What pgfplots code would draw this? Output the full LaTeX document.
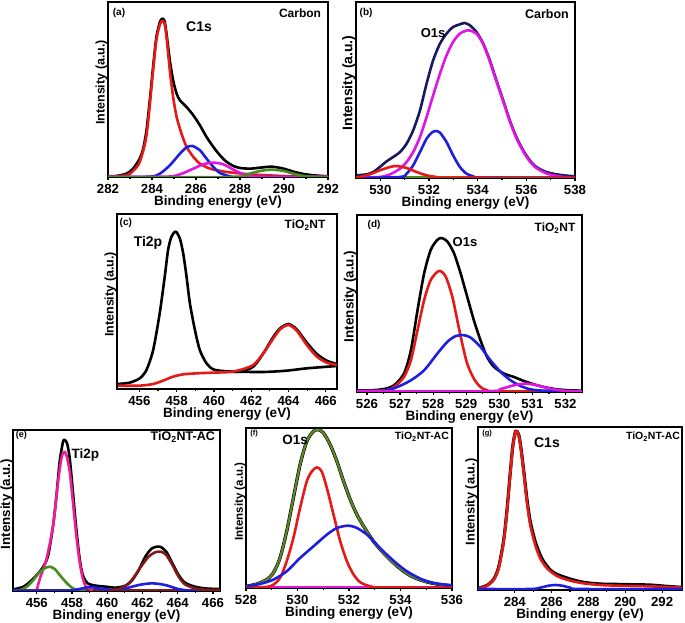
\documentclass[border=0pt]{standalone}
\usepackage{fontspec}
\setmainfont{Liberation Sans}
\usepackage{pgfplots}
\pgfplotsset{compat=1.18}
\definecolor{cred}{RGB}{230,25,25}
\definecolor{cblue}{RGB}{30,30,225}
\definecolor{cmag}{RGB}{225,20,225}
\definecolor{cgreen}{RGB}{70,140,30}
\definecolor{cnavy}{RGB}{25,25,95}
\definecolor{cpink}{RGB}{240,30,150}
\definecolor{colive}{RGB}{95,135,40}
\definecolor{cdred}{RGB}{130,25,25}
\newcommand{\fs}[1]{\fontsize{#1}{#1}\selectfont\bfseries}
\pgfplotsset{
 xps/.style={
  scale only axis, anchor=south west,
  axis line style={line width=2.2pt},
  ytick=\empty, ymin=0, xtick pos=bottom,
  tick align=outside, major tick length=2.8pt, minor tick length=2pt,
  minor x tick num=1, tick style={line width=1.2pt,black},
  /pgf/number format/assume math mode=true,
  /pgf/number format/1000 sep={},
  ticklabel style={font=\fs{13.2}, inner sep=1pt},
  xticklabel style={yshift=-3pt},
  xlabel={Binding energy (eV)}, ylabel={Intensity (a.u.)},
  xlabel style={font=\fs{13.5}, inner sep=0pt, yshift=-1.5pt},
  ylabel style={font=\fs{12.5}, at={(axis description cs:0,0.54)}, anchor=south, inner sep=0.5pt},
  every axis plot/.append style={line width=2.6pt, line join=round, mark=none, smooth, tension=0.45},
 }
}
\begin{document}
\begin{tikzpicture}
\useasboundingbox (0,0) rectangle (685pt,623pt);
% (a)
\begin{axis}[xps, at={(108pt,446pt)}, width=220pt, height=175pt,
  xmin=282, xmax=292, ymax=525, xtick={282,284,...,292}]
\addplot[black] coordinates {(282.0,2)(282.38,3)(282.84,10)(283.14,25)(283.44,55)(283.6,85)(283.75,140)(283.9,230)(284.05,330)(284.2,420)(284.36,465)(284.47,475)(284.57,468)(284.66,430)(284.81,350)(284.96,290)(285.12,250)(285.27,230)(285.57,210)(285.88,185)(286.18,155)(286.48,120)(286.79,90)(287.09,65)(287.4,45)(287.7,33)(288.0,27)(288.46,25)(288.91,28)(289.45,31)(289.98,25)(290.43,16)(290.89,9)(291.35,5)(292.0,2)};
\addplot[cred] coordinates {(282.0,1)(282.84,5)(283.14,18)(283.44,45)(283.75,125)(284.05,320)(284.2,412)(284.36,458)(284.47,468)(284.57,460)(284.66,420)(284.81,320)(284.96,240)(285.12,180)(285.34,130)(285.57,90)(285.72,75)(285.88,60)(286.18,40)(286.64,25)(287.4,15)(288.46,8)(289.98,3)(292.0,1)};
\addplot[cblue] coordinates {(282,0)(283.9,1)(284.36,10)(284.81,35)(285.27,70)(285.57,89)(285.84,93)(286.18,80)(286.48,55)(286.79,30)(287.09,12)(287.55,2)(288.0,0)(292,0)};
\addplot[cmag] coordinates {(282,0)(284.66,1)(285.27,8)(285.88,25)(286.33,38)(286.79,43)(287.24,38)(287.7,22)(288.16,8)(288.61,1)(292,0)};
\addplot[cgreen] coordinates {(282,0)(287.7,0)(288.31,8)(288.91,18)(289.45,22)(289.98,18)(290.43,10)(290.89,3)(291.35,0)(292,0)};
\node[font=\fs{10}] at (rel axis cs:0.05,0.937) {(a)};
\node[font=\fs{12}] at (rel axis cs:0.873,0.937) {Carbon};
\node[font=\fs{14}] at (rel axis cs:0.414,0.857) {C1s};
\end{axis}
% (b)
\begin{axis}[xps, at={(356pt,445pt)}, width=219pt, height=176pt,
  xmin=529, xmax=538, ymax=528, xtick={530,532,...,538},
  ylabel style={font=\fs{14}}]
\addplot[cgreen] coordinates {(529,2)(538,2)};
\addplot[cnavy] coordinates {(529.03,8)(529.44,11)(529.71,18)(529.98,33)(530.26,50)(530.53,63)(530.81,78)(531.08,103)(531.35,143)(531.63,203)(531.9,283)(532.17,353)(532.45,403)(532.72,433)(532.99,453)(533.27,461)(533.47,465)(533.68,458)(533.95,438)(534.23,403)(534.5,353)(534.77,293)(535.05,233)(535.32,173)(535.59,123)(535.87,83)(536.14,53)(536.41,33)(536.82,18)(537.24,11)(537.65,7)(538,5)};
\addplot[cmag] coordinates {(529,1)(529.98,3)(530.4,11)(530.81,28)(531.08,48)(531.35,78)(531.63,123)(531.9,183)(532.17,248)(532.45,313)(532.72,368)(532.99,408)(533.27,433)(533.61,443)(533.95,433)(534.23,401)(534.5,350)(534.77,290)(535.05,230)(535.32,170)(535.59,120)(535.87,80)(536.14,50)(536.41,30)(536.82,14)(537.24,6)(537.65,2)(538,1)};
\addplot[cblue] coordinates {(529,0)(530.81,3)(531.08,13)(531.35,38)(531.63,78)(531.9,118)(532.11,136)(532.28,141)(532.45,136)(532.72,108)(532.99,68)(533.27,33)(533.54,13)(533.82,5)(534.23,1)(538,0)};
\addplot[cred] coordinates {(529,1)(529.16,3)(529.57,11)(529.98,23)(530.4,33)(530.67,36)(531.08,30)(531.49,18)(531.9,8)(532.31,3)(532.72,1)(538,0)};
\node[font=\fs{10}] at (rel axis cs:0.046,0.9375) {(b)};
\node[font=\fs{12.5}] at (rel axis cs:0.872,0.93) {Carbon};
\node[font=\fs{13}] at (rel axis cs:0.352,0.824) {O1s};
\end{axis}
% (c)
\begin{axis}[xps, at={(117pt,234pt)}, width=220pt, height=175pt,
  xmin=454.8, xmax=466.6, ymax=525, xtick={456,458,...,466}]
\addplot[black] coordinates {(454.85,15)(455.48,19)(456.02,32)(456.38,57)(456.74,117)(457.09,227)(457.36,337)(457.54,417)(457.72,457)(457.95,472)(458.17,452)(458.35,407)(458.53,337)(458.71,257)(458.98,177)(459.24,117)(459.6,77)(459.96,59)(460.5,54)(461.4,52)(462.11,67)(462.65,107)(463.19,157)(463.55,182)(463.99,195)(464.44,179)(464.98,139)(465.52,105)(466.05,85)(466.59,75)};
\addplot[black] coordinates {(460.86,52)(462.65,51)(463.9,55)(464.98,62)(466.59,69)};
\addplot[cred] coordinates {(454.85,10)(456.02,10)(456.74,15)(457.27,25)(457.81,37)(458.35,44)(459.07,47)(459.96,49)(460.86,51)(461.4,57)(462.11,72)(462.65,107)(463.19,152)(463.55,179)(463.99,192)(464.44,175)(464.98,132)(465.52,97)(466.05,79)(466.59,72)};
\node[font=\fs{10}] at (rel axis cs:0.04,0.949) {(c)};
\node[font=\fs{12}] at (rel axis cs:0.855,0.937) {TiO\textsubscript{2}NT};
\node[font=\fs{14}] at (rel axis cs:0.141,0.834) {Ti2p};
\end{axis}
% (d)
\begin{axis}[xps, at={(357pt,231pt)}, width=225pt, height=177pt,
  xmin=525.7, xmax=532.5, ymax=529, xtick={526,527,...,532},
  ylabel style={font=\fs{13.5}}]
\addplot[cgreen] coordinates {(525.7,2)(532.5,2)};
\addplot[black] coordinates {(525.7,5)(526.12,5)(526.52,9)(526.82,20)(527.12,55)(527.33,125)(527.53,245)(527.73,355)(527.93,425)(528.13,455)(528.26,460)(528.43,450)(528.63,415)(528.83,355)(529.03,285)(529.23,215)(529.43,155)(529.63,105)(529.84,75)(530.14,55)(530.44,45)(530.74,33)(531.04,23)(531.34,15)(531.74,8)(532.14,5)(532.52,4)};
\addplot[cred] coordinates {(525.7,3)(526.52,5)(526.82,15)(527.12,45)(527.33,95)(527.53,185)(527.73,275)(527.93,335)(528.18,362)(528.38,345)(528.58,285)(528.73,215)(528.88,145)(529.03,85)(529.23,40)(529.43,15)(529.63,5)(529.94,2)(532.5,2)};
\addplot[cblue] coordinates {(525.7,3)(526.52,4)(526.92,15)(527.33,35)(527.73,65)(528.13,115)(528.43,150)(528.68,167)(528.91,170)(529.13,163)(529.43,135)(529.73,95)(530.04,60)(530.34,35)(530.64,18)(530.94,8)(531.34,4)(532.5,2)};
\addplot[cmag] coordinates {(525.7,2)(529.63,2)(530.04,9)(530.44,20)(530.79,25)(531.14,20)(531.54,10)(531.94,4)(532.35,2)(532.5,2)};
\node[font=\fs{10}] at (rel axis cs:0.076,0.944) {(d)};
\node[font=\fs{12}] at (rel axis cs:0.88,0.927) {TiO\textsubscript{2}NT};
\node[font=\fs{13}] at (rel axis cs:0.48,0.847) {O1s};
\end{axis}
% (e)
\begin{axis}[xps, at={(13pt,32pt)}, width=207pt, height=161pt,
  xmin=454.65, xmax=466.4, ymax=483, xtick={456,458,...,466},
  ylabel style={font=\fs{13.3}, inner sep=0pt}]
\addplot[cdred, line width=1.2pt] coordinates {(454.65,3)(466.4,3)};
\addplot[black] coordinates {(454.65,5)(454.78,6)(455.25,13)(455.62,28)(456.0,48)(456.37,73)(456.65,108)(456.93,198)(457.12,288)(457.3,388)(457.49,448)(457.58,453)(457.72,443)(457.87,398)(458.05,298)(458.24,188)(458.43,98)(458.61,48)(458.89,23)(459.36,16)(459.92,13)(460.48,10)(461.04,16)(461.42,33)(461.79,63)(462.16,103)(462.54,128)(462.98,133)(463.35,118)(463.7,83)(464.05,48)(464.41,25)(464.97,13)(465.53,8)(466.18,6)(466.4,6)};
\addplot[cpink] coordinates {(456.0,3)(456.18,38)(456.56,98)(456.93,198)(457.21,328)(457.4,398)(457.55,418)(457.68,408)(457.87,358)(458.05,268)(458.24,168)(458.43,88)(458.61,38)(458.8,13)(459.17,3)};
\addplot[cgreen] coordinates {(454.65,1)(455.06,3)(455.44,13)(455.81,33)(456.18,58)(456.56,71)(456.74,73)(457.02,66)(457.3,48)(457.68,25)(458.05,8)(458.43,2)(458.8,1)};
\addplot[cblue] coordinates {(454.65,1)(457.68,1)(458.43,6)(458.99,12)(459.55,8)(460.29,4)(461.04,8)(461.79,18)(462.54,23)(463.29,18)(464.03,6)(464.78,1)(466.4,1)};
\addplot[cdred] coordinates {(460.11,3)(460.67,6)(461.23,23)(461.6,48)(461.98,78)(462.35,103)(462.72,116)(463.05,118)(463.35,108)(463.7,78)(464.05,43)(464.41,20)(464.97,8)(465.53,4)(466.4,3)};
\node[font=\fs{9}] at (rel axis cs:0.04,0.965) {(e)};
\node[font=\fs{12.5}] at (rel axis cs:0.82,0.957) {TiO\textsubscript{2}NT-AC};
\node[font=\fs{13.5}] at (rel axis cs:0.35,0.845) {Ti2p};
\end{axis}
% (f)
\begin{axis}[xps, at={(246pt,35pt)}, width=206pt, height=160pt,
  xmin=528, xmax=536, ymax=480, xtick={528,530,...,536},
  ylabel style={font=\fs{11.5}}]
\addplot[cmag] coordinates {(528,3)(536,3)};
\addplot[black, line width=3.3pt] coordinates {(528.0,5)(528.42,12)(528.8,25)(529.06,45)(529.32,90)(529.58,170)(529.84,270)(530.1,370)(530.36,440)(530.62,470)(530.81,475)(531.01,465)(531.27,430)(531.53,380)(531.79,320)(532.05,265)(532.31,220)(532.57,185)(532.95,140)(533.34,105)(533.73,75)(534.12,50)(534.51,32)(535.03,18)(535.55,10)(536.0,7)};
\addplot[colive, line width=2.2pt] coordinates {(528.0,5)(528.42,12)(528.8,25)(529.06,45)(529.32,90)(529.58,170)(529.84,270)(530.1,370)(530.36,440)(530.62,470)(530.81,475)(531.01,465)(531.27,430)(531.53,380)(531.79,320)(532.05,265)(532.31,220)(532.57,185)(532.95,140)(533.34,105)(533.73,75)(534.12,50)(534.51,32)(535.03,18)(535.55,10)(536.0,7)};
\addplot[cred] coordinates {(528,1)(528.93,5)(529.32,30)(529.58,80)(529.84,150)(530.1,240)(530.36,320)(530.56,350)(530.75,362)(530.94,350)(531.14,300)(531.4,220)(531.66,140)(531.92,80)(532.18,40)(532.44,17)(532.82,5)(533.21,2)(536,1)};
\addplot[cblue] coordinates {(528.03,5)(528.54,12)(529.06,25)(529.58,50)(530.1,90)(530.62,125)(531.14,160)(531.53,180)(531.96,187)(532.31,180)(532.7,160)(533.08,130)(533.47,100)(533.86,73)(534.25,50)(534.77,28)(535.29,15)(536.0,8)};
\node[font=\fs{7.5}] at (rel axis cs:0.04,0.9625) {(f)};
\node[font=\fs{10.5}] at (rel axis cs:0.854,0.944) {TiO\textsubscript{2}NT-AC};
\node[font=\fs{13.5}] at (rel axis cs:0.238,0.925) {O1s};
\end{axis}
% (g)
\begin{axis}[xps, at={(478pt,33pt)}, width=204pt, height=163pt,
  xmin=282, xmax=293.08, ymax=490, xtick={284,286,...,292},
  ylabel style={font=\fs{12.8}}]
\addplot[black, line width=3.2pt] coordinates {(282.0,5)(282.49,14)(282.85,32)(283.12,68)(283.39,148)(283.57,238)(283.76,358)(283.9,437)(284.05,478)(284.21,467)(284.33,428)(284.48,360)(284.66,272)(284.84,205)(285.11,145)(285.38,105)(285.57,85)(285.93,60)(286.29,47)(287.01,33)(287.74,23)(288.64,18)(289.55,17)(290.45,16)(291.36,15)(292.26,11)(293.08,8)};
\addplot[cred] coordinates {(282.04,5)(282.49,13)(282.85,30)(283.12,65)(283.39,145)(283.57,235)(283.76,355)(283.9,435)(284.05,477)(284.21,465)(284.33,425)(284.48,355)(284.66,265)(284.84,195)(285.11,135)(285.38,95)(285.75,65)(286.29,42)(287.01,28)(287.74,20)(288.64,15)(289.55,13)(290.45,12)(291.36,11)(292.26,9)(293.08,7)};
\addplot[cblue] coordinates {(282,3)(284.84,3)(285.38,7)(285.84,13)(286.2,15)(286.56,13)(287.01,7)(287.56,3)(293.08,3)};
\node[font=\fs{7.5}] at (rel axis cs:0.045,0.957) {(g)};
\node[font=\fs{10.5}] at (rel axis cs:0.858,0.939) {TiO\textsubscript{2}NT-AC};
\node[font=\fs{14}] at (rel axis cs:0.338,0.902) {C1s};
\end{axis}
\end{tikzpicture}
\end{document}
